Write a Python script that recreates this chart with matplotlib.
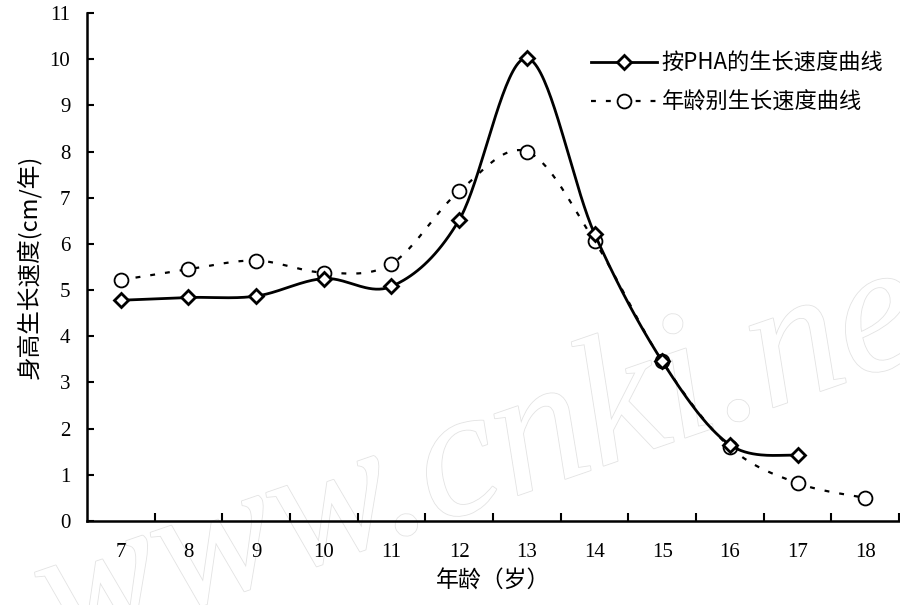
import numpy as np
import matplotlib
matplotlib.use("Agg")
import matplotlib.pyplot as plt
import matplotlib.patheffects as pe
from matplotlib.lines import Line2D

ages = [7, 8, 9, 10, 11, 12, 13, 14, 15, 16, 17, 18]
pha_ages = [7, 8, 9, 10, 11, 12, 13, 14, 15, 16, 17]
pha_vel = [4.78, 4.84, 4.87, 5.25, 5.08, 6.52, 10.02, 6.22, 3.46, 1.65, 1.42]
age_vel = [5.22, 5.45, 5.64, 5.38, 5.57, 7.14, 8.0, 6.06, 3.46, 1.6, 0.82, 0.5]

label_pha = "按PHA的生长速度曲线"
label_age = "年龄别生长速度曲线"
xlabel = "年龄（岁）"
ylabel = "身高生长速度(cm/年)"
watermark = "www.cnki.net"

CJK = ["Noto Sans CJK SC", "DejaVu Sans"]
SERIF = "Liberation Serif"


def smooth(x, y, n=40):
    """Excel-like smoothed line (Catmull-Rom Bezier)."""
    x = np.asarray(x, float)
    y = np.asarray(y, float)
    pts = np.column_stack([x, y])
    out = []
    for i in range(len(pts) - 1):
        p0 = pts[i - 1] if i > 0 else pts[i]
        p1 = pts[i]
        p2 = pts[i + 1]
        p3 = pts[i + 2] if i + 2 < len(pts) else pts[i + 1]
        c1 = p1 + (p2 - p0) / 6.0
        c2 = p2 - (p3 - p1) / 6.0
        t = np.linspace(0, 1, n)[:, None]
        seg = ((1 - t) ** 3) * p1 + 3 * ((1 - t) ** 2) * t * c1 + 3 * (1 - t) * t ** 2 * c2 + t ** 3 * p2
        out.append(seg if i == 0 else seg[1:])
    s = np.vstack(out)
    return s[:, 0], s[:, 1]


fig = plt.figure(figsize=(9, 6.05), dpi=100)
ax = fig.add_axes([87 / 900, 84 / 605, 812 / 900, 508 / 605])
ax.set_facecolor("none")

# faint watermark behind everything
fig.text(0.56, 0.25, watermark, fontsize=132, family=SERIF, style="italic",
         color="white", rotation=19, ha="center", va="center", zorder=-5,
         path_effects=[pe.withStroke(linewidth=1.2, foreground="#e3e3e3")])

dot_style = (0, (2.2, 4.5))

xs, ys = smooth(ages, age_vel)
ax.plot(xs, ys, color="black", lw=1.6, linestyle=dot_style, zorder=3)
ax.plot(ages, age_vel, linestyle="none", marker="o", ms=10, mfc="white",
        mec="black", mew=1.3, zorder=4)

xs, ys = smooth(pha_ages, pha_vel)
ax.plot(xs, ys, color="black", lw=2.0, zorder=5)
ax.plot(pha_ages, pha_vel, linestyle="none", marker="D", ms=7.2, mfc="white",
        mec="black", mew=2.0, zorder=6)

ax.set_xlim(6.5, 18.5)
ax.set_ylim(0, 11)
ax.set_yticks(range(0, 12))
ax.set_yticklabels([str(v) for v in range(0, 12)], family=SERIF, fontsize=15)
ax.set_xticks(ages)
ax.set_xticklabels([str(a) for a in ages], family=SERIF, fontsize=15)
ax.set_xticks(np.arange(7.5, 18.6, 1.0), minor=True)
ax.tick_params(axis="x", which="major", length=0, pad=16)
ax.tick_params(axis="x", which="minor", direction="in", length=6, width=1.5)
ax.tick_params(axis="y", direction="in", length=5, width=1.5, pad=12)

for s in ["top", "right"]:
    ax.spines[s].set_visible(False)
for s in ["left", "bottom"]:
    ax.spines[s].set_linewidth(1.8)

ax.set_xlabel(xlabel, family=CJK, fontsize=16.5, labelpad=5)
ax.set_ylabel(ylabel, family=CJK, fontsize=17, labelpad=6)

handles = [
    Line2D([], [], color="black", lw=2.0, marker="D", ms=7.2, mfc="white", mec="black", mew=2.0),
    Line2D([], [], color="black", lw=1.6, linestyle=dot_style, marker="o", ms=10, mfc="white", mec="black", mew=1.3),
]
leg = ax.legend(handles, [label_pha, label_age], loc="upper right",
                bbox_to_anchor=(1.0, 0.955), frameon=False, handlelength=3.0,
                labelspacing=0.75, handletextpad=0.2, borderaxespad=0.3,
                prop={"family": CJK, "size": 16})

fig.savefig("out.png", dpi=100)
